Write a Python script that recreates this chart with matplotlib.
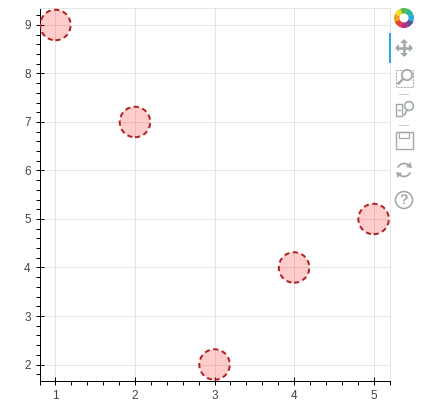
import numpy as np
import matplotlib
matplotlib.use("Agg")
import matplotlib.pyplot as plt
from matplotlib.patches import Circle, Rectangle, Wedge, Polygon, Arc
from matplotlib.ticker import MultipleLocator

x_values = [1, 2, 3, 4, 5]
y_values = [9, 7, 2, 4, 5]

W, H = 437, 413
L, R, T, B = 39.5, 389.5, 8, 381
px = 72 / 100

plt.rcParams['font.family'] = ['Liberation Sans', 'DejaVu Sans']
fig = plt.figure(figsize=(W / 100, H / 100), dpi=100, facecolor='white')
ax = fig.add_axes([L / W, 1 - B / H, (R - L) / W, (B - T) / H])
ax.set_xlim(0.8, 5.2)
ax.set_ylim(1.66, 9.35)

ax.xaxis.set_major_locator(MultipleLocator(1))
ax.yaxis.set_major_locator(MultipleLocator(1))
ax.xaxis.set_minor_locator(MultipleLocator(0.2))
ax.yaxis.set_minor_locator(MultipleLocator(0.2))
ax.grid(True, which='major', color='#e5e5e5', lw=1 * px)
ax.set_axisbelow(True)

for s in ('top', 'right'):
    ax.spines[s].set_color('#e5e5e5')
    ax.spines[s].set_linewidth(1 * px)
for s in ('left', 'bottom'):
    ax.spines[s].set_color('black')
    ax.spines[s].set_linewidth(1 * px)

ax.tick_params(which='major', direction='inout', length=8 * px, width=1 * px,
               labelsize=8.5, labelcolor='#444444', color='black', pad=3.5)
ax.tick_params(which='minor', direction='out', length=4 * px, width=1 * px, color='black')

ax.scatter(x_values, y_values, s=(30.5 * px) ** 2, facecolor=(1, 0, 0, 0.2),
           edgecolor='#b22222', linewidth=2 * px, linestyle=(0, (2.6, 1.8)),
           zorder=3, clip_on=True)

# toolbar, drawn in pixel coordinates
tb = fig.add_axes([0, 0, 1, 1], facecolor='none')
tb.set_xlim(0, W)
tb.set_ylim(H, 0)
tb.axis('off')
G = '#a3a8aa'

tb.add_patch(Rectangle((389, 33), 2.2, 30, color='#26aae1', lw=0))

# logo
colors = ['#e8442f', '#f59d1e', '#f2dc1f', '#5cb947', '#2bb5a0', '#26aae1', '#5b50a0', '#c2287f']
for i, c in enumerate(colors):
    a = 180 + i * 45
    tb.add_patch(Wedge((404, 18), 10, a - 90 + 22, a - 90 + 68, width=5.5, color=c, lw=0))

# pan
tb.plot([398, 410], [48, 48], color=G, lw=2.6 * px)
tb.plot([404, 404], [42, 54], color=G, lw=2.6 * px)
for pts in ([(399, 44), (399, 52), (395, 48)], [(409, 44), (409, 52), (413, 48)],
            [(400, 43), (408, 43), (404, 39)], [(400, 53), (408, 53), (404, 57)]):
    tb.add_patch(Polygon(pts, color=G, lw=0))

# box zoom
tb.add_patch(Rectangle((395.5, 69.5), 17, 17, fill=False, ec=G, lw=1 * px, ls=(0, (2, 1.2))))
tb.add_patch(Circle((407, 75), 5.2, fc='white', ec=G, lw=1.8 * px))
tb.plot([403, 398.5], [79, 83.5], color=G, lw=2.4 * px)
tb.plot([399, 408], [93.5, 93.5], color='#cccccc', lw=1 * px)

# wheel zoom
tb.add_patch(Rectangle((395.5, 103.5), 6.5, 12, fill=False, ec=G, lw=1.4 * px, joinstyle='round'))
tb.plot([397.5, 400], [109.5, 109.5], color=G, lw=1.4 * px)
tb.add_patch(Circle((409, 106), 4.4, fc='white', ec=G, lw=1.6 * px))
tb.plot([407, 404.5], [110, 115], color=G, lw=1.8 * px)
tb.plot([399, 408], [124.5, 124.5], color='#cccccc', lw=1 * px)

# save
tb.add_patch(Rectangle((395.5, 131.5), 17, 17, fill=False, ec=G, lw=1.4 * px))
tb.add_patch(Rectangle((399, 131.5), 9.5, 6, fill=False, ec=G, lw=1.2 * px))

# reset
tb.add_patch(Arc((404, 170), 13, 13, theta1=200, theta2=330, color=G, lw=1.8 * px))
tb.add_patch(Arc((404, 170), 13, 13, theta1=20, theta2=150, color=G, lw=1.8 * px))
tb.add_patch(Polygon([(410.5, 162), (412, 168), (406, 167)], color=G, lw=0))
tb.add_patch(Polygon([(397.5, 178), (396, 172), (402, 173)], color=G, lw=0))

# help
tb.add_patch(Circle((404, 200), 8.5, fill=False, ec=G, lw=1.6 * px))
tb.text(404, 200.5, '?', ha='center', va='center', fontsize=10, color=G, fontweight='bold')

fig.savefig('out.png', dpi=100, facecolor='white')
